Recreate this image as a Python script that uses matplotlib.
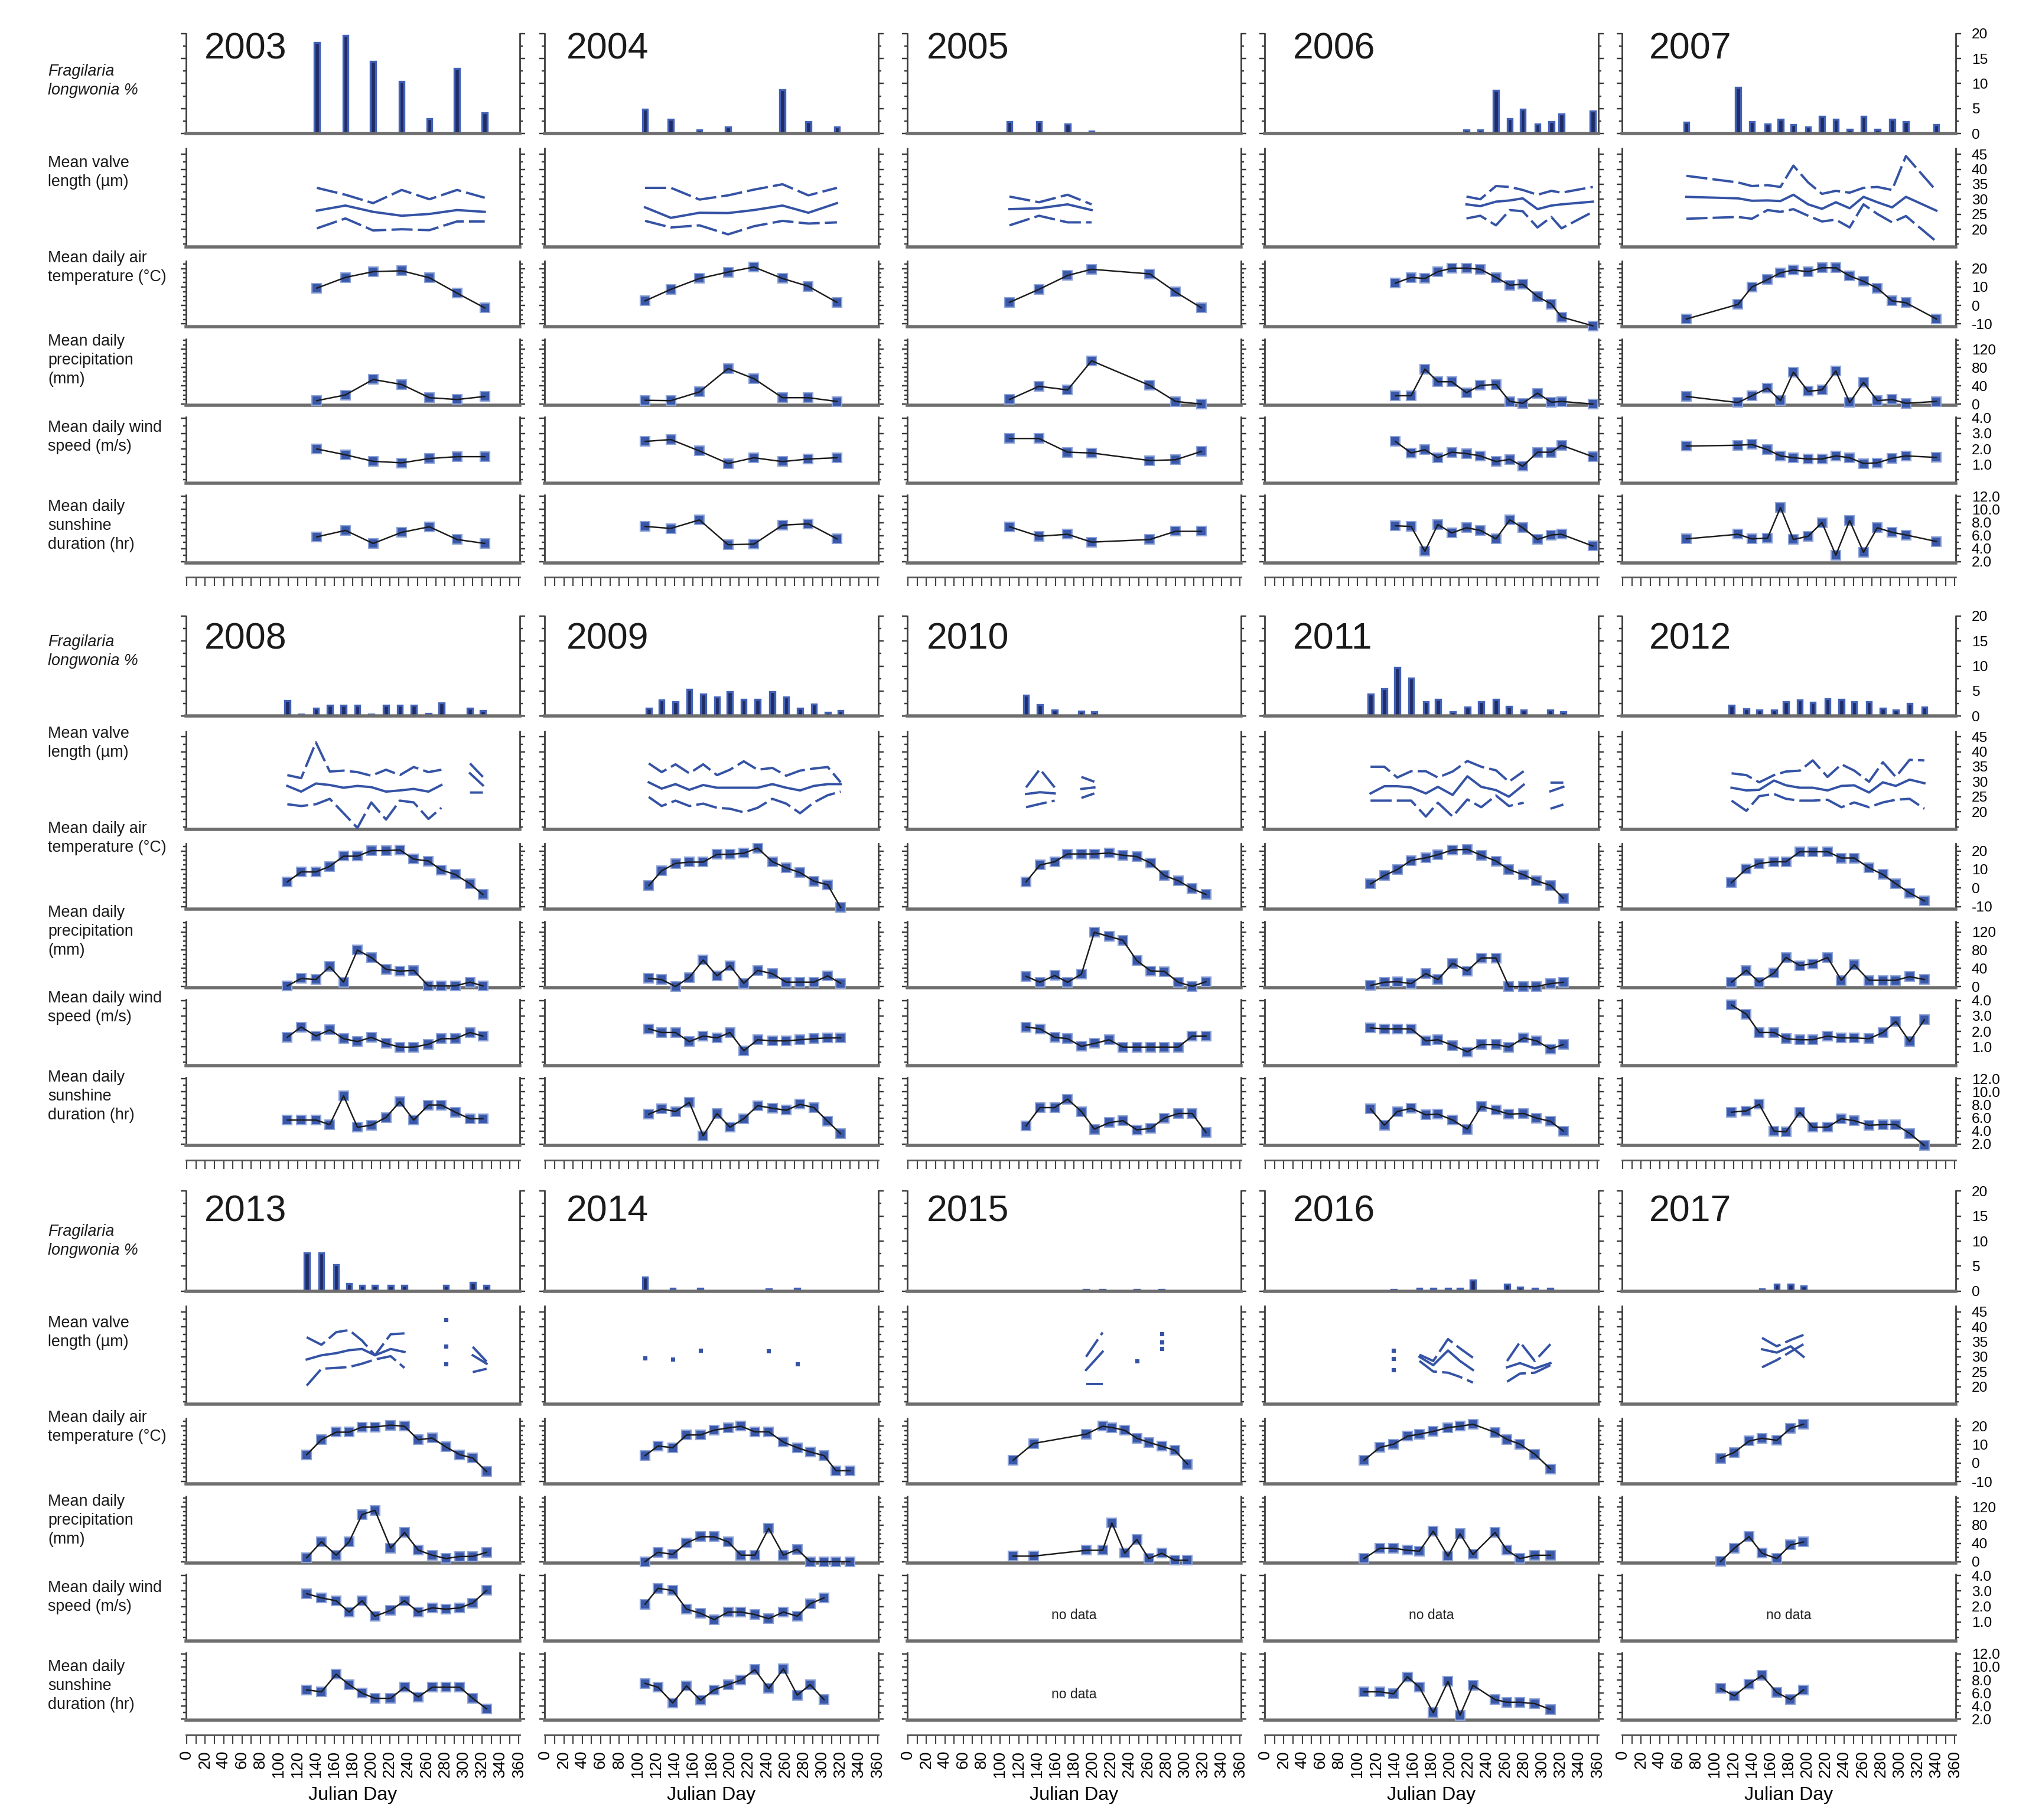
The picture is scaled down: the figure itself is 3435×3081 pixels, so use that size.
import numpy as np
import matplotlib
matplotlib.use("Agg")
import matplotlib.pyplot as plt
from matplotlib.ticker import MultipleLocator, FixedLocator, FormatStrFormatter

nan = np.nan

years = [2003, 2004, 2005, 2006, 2007, 2008, 2009, 2010, 2011, 2012, 2013, 2014, 2015, 2016, 2017]

row_labels = ["Fragilaria\nlongwonia %", "Mean valve\nlength (µm)", "Mean daily air\ntemperature (°C)",
              "Mean daily\nprecipitation\n(mm)", "Mean daily wind\nspeed (m/s)",
              "Mean daily\nsunshine\nduration (hr)"]

# ---- 2003
days_2003 = [141, 172, 202, 233, 263, 293, 323]
frag_2003 = [18.2, 19.6, 14.4, 10.4, 3.0, 13.0, 4.1]
vmax_2003 = [33.8, 31.5, 28.7, 33.1, 30.0, 33.1, 30.5]
vmean_2003 = [26.2, 27.9, 25.8, 24.5, 25.1, 26.4, 25.8]
vmin_2003 = [20.3, 23.6, 19.6, 20.0, 19.7, 22.6, 22.6]
air_2003 = [9.4, 15.2, 18.3, 18.8, 15.0, 6.7, -1.3]
rain_2003 = [7.5, 20, 54, 43, 14, 10, 16.7]
wind_2003 = [2.0, 1.62, 1.2, 1.1, 1.38, 1.5, 1.5]
sun_2003 = [5.8, 6.8, 4.8, 6.5, 7.35, 5.4, 4.8]

# ---- 2004
days_2004 = [108, 136, 167, 198, 226, 257, 285, 316]
frag_2004 = [4.9, 2.8, 0.75, 1.3, 0, 8.7, 2.4, 1.3]
vmax_2004 = [33.8, 33.8, 29.9, 31.3, 33.2, 35.0, 31.3, 33.8]
vmean_2004 = [27.3, 23.8, 25.5, 25.4, 26.4, 27.9, 25.5, 28.7]
vmin_2004 = [22.8, 20.6, 21.3, 18.3, 21.0, 22.8, 21.9, 22.3]
air_2004 = [2.5, 8.75, 14.6, 18.1, 20.8, 14.6, 10.4, 1.7]
rain_2004 = [8.3, 7.5, 26.7, 78, 55.8, 14, 14, 5.8]
wind_2004 = [2.49, 2.61, 1.87, 1.06, 1.43, 1.18, 1.35, 1.43]
sun_2004 = [7.4, 7.1, 8.4, 4.6, 4.7, 7.6, 7.8, 5.5]

# ---- 2005
days_2005 = [110, 142, 173, 199, 262, 290, 318]
frag_2005 = [2.4, 2.4, 1.9, 0.5, 0, 0, 0]
vmax_2005 = [30.9, 29.0, 31.5, 28.3, nan, nan, nan]
vmean_2005 = [26.7, 27.0, 28.3, 26.4, nan, nan, nan]
vmin_2005 = [21.3, 24.5, 22.3, 22.3, nan, nan, nan]
air_2005 = [1.7, 8.75, 16.25, 19.6, 17.1, 7.3, -1.25]
rain_2005 = [10, 39, 31, 95, 41, 5.8, 0]
wind_2005 = [2.68, 2.68, 1.79, 1.74, 1.25, 1.3, 1.84]
sun_2005 = [7.35, 5.9, 6.2, 5.0, 5.4, 6.65, 6.65]

# ---- 2006
days_2006 = [141, 158, 173, 187, 202, 218, 233, 250, 265, 279, 295, 310, 321, 355]
frag_2006 = [0, 0, 0, 0, 0, 0.75, 0.75, 8.6, 2.95, 4.9, 1.9, 2.4, 3.9, 4.5]
vmax_2006 = [nan, nan, nan, nan, nan, 30.9, 30.0, 34.4, 34.1, 33.1, 31.5, 32.8, 32.2, 34.1]
vmean_2006 = [nan, nan, nan, nan, nan, 28.3, 27.7, 29.2, 29.6, 30.3, 26.7, 27.9, 28.3, 29.2]
vmin_2006 = [nan, nan, nan, nan, nan, 23.6, 24.5, 21.3, 26.4, 26.0, 20.6, 24.1, 20.3, 25.8]
air_2006 = [12.1, 15.2, 14.6, 18.3, 20.2, 20.2, 19.6, 15.2, 11.0, 11.5, 4.8, 0.8, -6.25, -11]
rain_2006 = [18.3, 18.3, 76.7, 49, 49, 25, 41, 43, 5.8, 1.7, 24, 4, 5.8, 0]
wind_2006 = [2.49, 1.74, 1.95, 1.43, 1.79, 1.7, 1.55, 1.18, 1.33, 0.88, 1.79, 1.79, 2.24, 1.5]
sun_2006 = [7.5, 7.4, 3.6, 7.7, 6.4, 7.2, 6.8, 5.5, 8.4, 7.2, 5.4, 6.1, 6.2, 4.4]

# ---- 2007
days_2007 = [69, 125, 140, 157, 171, 185, 201, 216, 231, 246, 261, 276, 292, 307, 340]
frag_2007 = [2.3, 9.2, 2.4, 1.9, 2.8, 1.8, 1.3, 3.4, 2.8, 0.8, 3.4, 0.8, 2.8, 2.4, 1.8]
vmax_2007 = [37.8, 35.6, 34.4, 34.7, 34.1, 41.2, 35.6, 31.8, 32.8, 32.2, 33.8, 34.1, 33.1, 44.4, 32.8]
vmean_2007 = [30.8, 30.3, 29.5, 29.6, 29.4, 31.5, 28.3, 26.8, 29.0, 27.0, 30.8, 29.0, 27.3, 30.8, 26.2]
vmin_2007 = [23.5, 24.1, 23.5, 26.4, 25.8, 26.7, 24.5, 22.6, 23.2, 20.6, 28.3, 25.1, 22.3, 24.4, 15.9]
air_2007 = [-7.3, 0.6, 10, 14, 17.7, 19.2, 18.3, 20.4, 20.4, 16, 13.1, 9.4, 2.5, 1.5, -7.3]
rain_2007 = [16.7, 3.3, 18.3, 35, 7.5, 70, 28, 31, 72.5, 3.3, 47.5, 7.5, 10, 1.7, 5.8]
wind_2007 = [2.19, 2.24, 2.29, 1.95, 1.55, 1.43, 1.35, 1.35, 1.55, 1.43, 1.06, 1.1, 1.4, 1.55, 1.45]
sun_2007 = [5.5, 6.2, 5.5, 5.6, 10.3, 5.4, 5.9, 8.0, 3.0, 8.3, 3.45, 7.2, 6.5, 6.1, 5.1]

# ---- 2008
days_2008 = [109, 124, 140, 155, 170, 185, 200, 216, 231, 246, 262, 276, 291, 307, 321]
frag_2008 = [3.1, 0.4, 1.6, 2.2, 2.2, 2.2, 0.4, 2.2, 2.2, 2.2, 0.5, 2.6, 0, 1.6, 1.1]
vmax_2008 = [32.2, 31.2, 43.1, 33.4, 33.7, 33.2, 32.0, 34.0, 32.2, 34.9, 33.2, 34.0, nan, 36.1, 31.6]
vmean_2008 = [28.6, 26.7, 29.4, 28.9, 28.0, 28.6, 28.2, 26.7, 27.1, 27.6, 26.7, 28.9, nan, 32.8, 28.8]
vmin_2008 = [22.5, 21.9, 22.5, 24.3, 19.5, 14.6, 23.1, 17.4, 23.7, 23.1, 17.6, 21.3, nan, 26.4, 26.4]
air_2008 = [3.3, 8.7, 8.7, 11.7, 17.2, 17.2, 20.2, 20.2, 20.6, 15.6, 14.6, 9.7, 7.3, 2.3, -3.6]
rain_2008 = [1.5, 17.7, 15.3, 43.6, 9.6, 80, 63.8, 38, 33.9, 35.5, 1.5, 1.5, 1.5, 9.6, 1.5]
wind_2008 = [1.62, 2.29, 1.7, 2.1, 1.53, 1.34, 1.62, 1.22, 0.98, 0.98, 1.17, 1.53, 1.53, 1.93, 1.7]
sun_2008 = [5.7, 5.7, 5.7, 5.0, 9.4, 4.6, 4.9, 6.1, 8.5, 5.7, 8.0, 8.0, 6.9, 5.9, 5.9]

# ---- 2009
days_2009 = [112, 126, 141, 156, 171, 186, 200, 215, 230, 246, 261, 276, 291, 306, 320]
frag_2009 = [1.6, 3.2, 2.8, 5.3, 4.4, 3.8, 4.9, 3.3, 3.3, 4.9, 3.8, 1.6, 2.4, 0.7, 1.1]
vmax_2009 = [36.1, 33.2, 35.8, 32.8, 35.8, 32.2, 34.0, 36.8, 34.0, 34.6, 32.0, 33.7, 34.4, 34.9, 29.8]
vmean_2009 = [29.8, 27.7, 29.2, 27.3, 28.9, 28.0, 28.0, 28.0, 28.0, 29.2, 28.0, 27.1, 28.6, 29.2, 29.2]
vmin_2009 = [24.9, 21.9, 23.7, 21.9, 22.7, 21.3, 21.0, 19.8, 21.3, 24.3, 22.7, 19.5, 23.1, 25.5, 26.7]
air_2009 = [1.3, 9.3, 13.3, 14.0, 14.0, 18.2, 18.2, 18.8, 21.6, 14.2, 10.9, 8.3, 3.7, 1.7, -10.6]
rain_2009 = [17.7, 15.3, 0, 20.1, 58.1, 23.4, 46, 7.2, 35.5, 28.2, 9.6, 9.6, 9.6, 23.4, 7.2]
wind_2009 = [2.17, 1.93, 1.93, 1.34, 1.7, 1.58, 1.93, 0.75, 1.46, 1.39, 1.39, 1.46, 1.53, 1.58, 1.58]
sun_2009 = [6.6, 7.4, 7.0, 8.4, 3.3, 6.7, 4.6, 5.9, 7.9, 7.5, 7.2, 8.1, 7.6, 5.5, 3.6]

# ---- 2010
days_2010 = [128, 143, 159, 173, 188, 202, 218, 233, 248, 263, 278, 293, 308, 323]
frag_2010 = [4.2, 2.3, 1.2, 0, 0.95, 0.8, 0, 0, 0, 0, 0, 0, 0, 0]
vmax_2010 = [28.1, 34.2, 28.1, nan, 31.6, 30.0, nan, nan, nan, nan, nan, nan, nan, nan]
vmean_2010 = [25.9, 26.5, 26.1, nan, 27.6, 28.1, nan, nan, nan, nan, nan, nan, nan, nan]
vmin_2010 = [21.5, 22.6, 23.7, nan, 24.6, 26.1, nan, nan, nan, nan, nan, nan, nan, nan]
air_2010 = [3.3, 12.4, 14.2, 18.4, 18.4, 18.4, 18.9, 17.7, 17.0, 13.5, 6.7, 3.9, -0.4, -3.5]
rain_2010 = [22.4, 9.4, 24.2, 9.4, 27.2, 119, 110, 101.4, 56.9, 34.3, 33.1, 9.4, 0.5, 10.6]
wind_2010 = [2.29, 2.17, 1.62, 1.53, 1.03, 1.22, 1.46, 0.98, 0.98, 0.98, 0.98, 0.98, 1.7, 1.7]
sun_2010 = [4.8, 7.6, 7.6, 8.9, 7.0, 4.3, 5.3, 5.6, 4.2, 4.4, 6.0, 6.7, 6.7, 3.8]

# ---- 2011
days_2011 = [114, 129, 143, 158, 174, 187, 203, 219, 234, 250, 264, 280, 294, 309, 323]
frag_2011 = [4.4, 5.4, 9.7, 7.6, 2.9, 3.3, 0.85, 1.85, 2.8, 3.3, 1.9, 1.2, 0, 1.2, 0.85]
vmax_2011 = [35.0, 35.0, 31.4, 33.5, 33.5, 31.4, 33.4, 36.9, 35.0, 33.8, 30.0, 33.5, nan, 29.7, 29.7]
vmean_2011 = [26.1, 28.5, 28.5, 28.1, 26.1, 28.3, 25.6, 31.8, 28.3, 27.2, 25.0, 29.0, nan, 26.8, 28.3]
vmin_2011 = [23.7, 23.7, 23.7, 23.7, 18.4, 23.0, 18.4, 24.1, 21.5, 25.4, 21.9, 23.0, nan, 21.0, 22.4]
air_2011 = [2.2, 6.7, 10.0, 14.9, 16.3, 18.0, 20.6, 20.9, 17.7, 14.6, 10.0, 7.1, 3.9, 1.4, -5.6]
rain_2011 = [2.3, 9.4, 10.6, 6.4, 28.4, 15.3, 51.0, 34.3, 62.8, 62.8, 0, 0, 0, 6.4, 9.4]
wind_2011 = [2.22, 2.17, 2.17, 2.17, 1.39, 1.46, 1.1, 0.68, 1.15, 1.15, 0.98, 1.58, 1.39, 0.87, 1.15]
sun_2011 = [7.4, 4.9, 7.0, 7.5, 6.5, 6.6, 5.7, 4.3, 7.8, 7.2, 6.6, 6.7, 6.0, 5.5, 4.0]

# ---- 2012
days_2012 = [118, 134, 148, 164, 177, 192, 206, 222, 237, 251, 267, 282, 296, 311, 327]
frag_2012 = [2.2, 1.4, 1.2, 1.2, 2.9, 3.2, 2.7, 3.4, 3.3, 2.9, 2.9, 1.6, 1.2, 2.5, 1.75]
vmax_2012 = [32.8, 32.2, 29.8, 32.2, 33.4, 33.7, 37.1, 31.6, 35.8, 33.7, 30.0, 36.5, 31.6, 37.3, 37.1]
vmean_2012 = [28.0, 27.1, 27.3, 30.4, 28.8, 28.0, 28.0, 27.1, 28.6, 28.8, 26.4, 29.8, 28.6, 30.7, 29.5]
vmin_2012 = [23.7, 20.3, 25.2, 25.9, 24.3, 23.7, 23.7, 24.0, 21.5, 23.1, 21.5, 23.1, 24.0, 24.3, 21.0]
air_2012 = [2.9, 10.3, 13.3, 14.2, 14.2, 19.6, 19.6, 19.6, 16.2, 16.2, 10.9, 7.3, 2.3, -2.7, -7.0]
rain_2012 = [9.6, 35.5, 9.6, 29.8, 63.8, 46.0, 50.0, 63.8, 13.7, 47.6, 13.7, 13.7, 13.7, 21.8, 15.3]
wind_2012 = [3.71, 3.12, 1.93, 1.93, 1.53, 1.46, 1.46, 1.70, 1.58, 1.58, 1.53, 1.93, 2.64, 1.34, 2.76]
sun_2012 = [6.9, 7.1, 8.1, 4.0, 3.9, 6.9, 4.6, 4.6, 5.9, 5.6, 4.9, 5.0, 5.0, 3.65, 1.8]

# ---- 2013
days_2013 = [130, 146, 162, 176, 190, 204, 221, 236, 251, 266, 281, 296, 310, 325]
frag_2013 = [7.6, 7.6, 5.3, 1.5, 1.1, 1.1, 1.1, 1.1, 0, 0, 1.1, 0, 1.7, 1.1]
vmax_2013 = [36.5, 34.0, 38.2, 38.9, 35.4, 30.5, 37.5, 37.8, nan, nan, 42.4, nan, 33.3, 28.4]
vmean_2013 = [29.1, 30.5, 31.2, 32.2, 32.6, 30.5, 32.6, 31.6, nan, nan, 33.6, nan, 30.5, 27.7]
vmin_2013 = [20.4, 26.0, 26.3, 26.6, 27.7, 29.1, 30.2, 26.3, nan, nan, 27.7, nan, 24.9, 26.0]
air_2013 = [4.5, 12.6, 16.7, 16.7, 19.5, 19.5, 20.5, 19.9, 12.6, 13.5, 8.7, 4.5, 2.7, -4.6]
rain_2013 = [8.5, 43.5, 14.1, 43.5, 103.4, 112.6, 29.7, 63.8, 25.1, 14.1, 6.7, 11.3, 11.3, 20.5]
wind_2013 = [2.83, 2.56, 2.37, 1.64, 2.37, 1.37, 1.75, 2.37, 1.64, 1.91, 1.83, 1.91, 2.23, 3.04]
sun_2013 = [6.5, 6.2, 8.9, 7.3, 6.0, 5.2, 5.2, 6.9, 5.4, 6.9, 6.9, 6.9, 5.2, 3.6]

# ---- 2014
days_2014 = [108, 122, 138, 153, 168, 183, 198, 212, 227, 242, 258, 273, 287, 302, 315, 330]
frag_2014 = [2.8, 0, 0.5, 0, 0.5, 0, 0, 0, 0, 0.4, 0, 0.5, 0, 0, 0, 0]
vmax_2014 = [nan] * 16
vmean_2014 = [29.5, nan, 29.1, nan, 32.2, nan, nan, nan, nan, 31.9, nan, 27.7, nan, nan, nan, nan]
vmin_2014 = [nan] * 16
air_2014 = [4.0, 9.2, 8.3, 15.2, 15.2, 17.8, 19.0, 19.9, 16.9, 16.9, 11.3, 8.3, 6.0, 4.0, -4.1, -4.1]
rain_2014 = [0, 20.5, 15.9, 40.8, 54.6, 54.6, 43.5, 14.1, 14.1, 73, 14.1, 27, 0, 0, 0, 0]
wind_2014 = [2.15, 3.18, 3.04, 1.83, 1.56, 1.15, 1.64, 1.64, 1.48, 1.21, 1.64, 1.37, 2.18, 2.56, nan, nan]
sun_2014 = [7.5, 6.9, 4.5, 7.1, 4.9, 6.5, 7.3, 8.0, 9.6, 6.7, 9.7, 5.7, 7.3, 5.0, nan, nan]

# ---- 2015
days_2015 = [114, 136, 193, 211, 221, 235, 248, 261, 275, 289, 303]
frag_2015 = [0, 0, 0.3, 0.3, 0, 0, 0.3, 0, 0.3, 0, 0]
vmax_2015 = [nan, nan, 30.0, 38.1, nan, nan, nan, nan, 37.7, nan, nan]
vmean_2015 = [nan, nan, 25.6, 31.7, nan, nan, 28.6, nan, 34.9, nan, nan]
vmin_2015 = [nan, nan, 21.0, 21.0, nan, nan, nan, nan, 32.8, nan, nan]
air_2015 = [1.5, 10.6, 15.6, 19.9, 19.2, 17.7, 13.4, 11.2, 9.1, 6.9, -0.6]
rain_2015 = [12.0, 12.0, 24.8, 24.8, 84.8, 18.4, 48.4, 6.6, 18.4, 3.0, 3.0]
wind_2015 = None
sun_2015 = None

# ---- 2016
days_2016 = [107, 124, 139, 154, 167, 182, 198, 211, 225, 249, 262, 276, 292, 309]
frag_2016 = [0, 0, 0.3, 0, 0.6, 0.6, 0.5, 0.6, 2.2, 0, 1.4, 0.8, 0.5, 0.6]
vmax_2016 = [nan, nan, 32.1, nan, 30.7, 28.6, 35.9, 32.8, 29.7, nan, 28.6, 34.9, 28.6, 34.2]
vmean_2016 = [nan, nan, 29.3, nan, 30.0, 27.2, 32.1, 28.6, 25.6, nan, 26.5, 27.9, 26.1, 27.9]
vmin_2016 = [nan, nan, 25.6, nan, 28.6, 25.1, 24.7, 23.3, 21.4, nan, 21.7, 24.4, 24.7, 27.2]
air_2016 = [1.5, 8.4, 10.2, 14.5, 15.6, 17.1, 19.2, 19.9, 21.0, 16.6, 12.8, 10.2, 4.8, -3.2]
rain_2016 = [6.6, 29.3, 29.3, 24.8, 23.0, 66.6, 12.0, 61.1, 15.7, 63.9, 24.8, 6.6, 13.9, 13.9]
wind_2016 = None
sun_2016 = [6.2, 6.2, 5.9, 8.5, 6.9, 3.0, 7.8, 2.6, 7.2, 5.0, 4.6, 4.6, 4.4, 3.5]

# ---- 2017
days_2017 = [106, 121, 137, 151, 167, 182, 196]
frag_2017 = [0, 0, 0, 0.4, 1.4, 1.4, 1.0]
vmax_2017 = [nan, nan, nan, 36.3, 33.5, 35.6, 37.3]
vmean_2017 = [nan, nan, nan, 32.5, 31.4, 33.5, 30.0]
vmin_2017 = [nan, nan, nan, 26.5, 28.9, 31.7, 34.2]
air_2017 = [2.6, 5.8, 11.9, 13.4, 12.3, 18.8, 21.0]
rain_2017 = [0.2, 29.3, 54.7, 18.4, 6.6, 36.6, 43.0]
wind_2017 = None
sun_2017 = [6.7, 5.6, 7.4, 8.7, 6.1, 5.0, 6.5]

table = {
    2003: (days_2003, frag_2003, vmax_2003, vmean_2003, vmin_2003, air_2003, rain_2003, wind_2003, sun_2003),
    2004: (days_2004, frag_2004, vmax_2004, vmean_2004, vmin_2004, air_2004, rain_2004, wind_2004, sun_2004),
    2005: (days_2005, frag_2005, vmax_2005, vmean_2005, vmin_2005, air_2005, rain_2005, wind_2005, sun_2005),
    2006: (days_2006, frag_2006, vmax_2006, vmean_2006, vmin_2006, air_2006, rain_2006, wind_2006, sun_2006),
    2007: (days_2007, frag_2007, vmax_2007, vmean_2007, vmin_2007, air_2007, rain_2007, wind_2007, sun_2007),
    2008: (days_2008, frag_2008, vmax_2008, vmean_2008, vmin_2008, air_2008, rain_2008, wind_2008, sun_2008),
    2009: (days_2009, frag_2009, vmax_2009, vmean_2009, vmin_2009, air_2009, rain_2009, wind_2009, sun_2009),
    2010: (days_2010, frag_2010, vmax_2010, vmean_2010, vmin_2010, air_2010, rain_2010, wind_2010, sun_2010),
    2011: (days_2011, frag_2011, vmax_2011, vmean_2011, vmin_2011, air_2011, rain_2011, wind_2011, sun_2011),
    2012: (days_2012, frag_2012, vmax_2012, vmean_2012, vmin_2012, air_2012, rain_2012, wind_2012, sun_2012),
    2013: (days_2013, frag_2013, vmax_2013, vmean_2013, vmin_2013, air_2013, rain_2013, wind_2013, sun_2013),
    2014: (days_2014, frag_2014, vmax_2014, vmean_2014, vmin_2014, air_2014, rain_2014, wind_2014, sun_2014),
    2015: (days_2015, frag_2015, vmax_2015, vmean_2015, vmin_2015, air_2015, rain_2015, wind_2015, sun_2015),
    2016: (days_2016, frag_2016, vmax_2016, vmean_2016, vmin_2016, air_2016, rain_2016, wind_2016, sun_2016),
    2017: (days_2017, frag_2017, vmax_2017, vmean_2017, vmin_2017, air_2017, rain_2017, wind_2017, sun_2017),
}

# y axis setup per panel: limits, labelled ticks, minor step, label format
ylims = [(0, 20), (14.2, 46.9), (-11.4, 24.1), (-2.5, 143), (-0.22, 4.08), (1.83, 12.17)]
yticks = [[0, 5, 10, 15, 20], [20, 25, 30, 35, 40, 45], [-10, 0, 10, 20], [0, 40, 80, 120],
          [1, 2, 3, 4], [2, 4, 6, 8, 10, 12]]
yminor = [2.5, 2.5, 2.5, 10, 0.5, 1]
yfmt = ['%d', '%d', '%d', '%d', '%.1f', '%.1f']

plt.rcParams['font.family'] = ['Liberation Sans', 'DejaVu Sans']

W = 3435 / 2.2
H = 3081 / 2.2
fig = plt.figure(figsize=(3435 / 220, 3081 / 220), dpi=220)


def rect(x, y, w, h):
    return [x / W, 1 - (y + h) / H, w / W, h / H]


col_left = [143, 419, 698, 973, 1248]
col_w = 257
row_top = [25.8, 474, 916.5]
panels = [(0, 77), (88.5, 75.5), (175, 50.5), (235, 51), (295, 51), (355.3, 52)]
strip_y = 418
label_y = [29.2, 99.7, 172.7, 237.2, 303.2, 364.2]
label_shift = [0, -9, 2]
year_dx = [14, 17, 15, 22, 21]
year_dy = [12, 18, 16]

BLUE = '#3553a5'


def style(ax, k, show_right):
    ax.set_xlim(-1, 361)
    ax.set_ylim(*ylims[k])
    ax.spines['top'].set_visible(False)
    for s in ('left', 'right'):
        ax.spines[s].set_color('#3a3a3a')
        ax.spines[s].set_linewidth(0.9)
    ax.spines['bottom'].set_color('#6e6e6e')
    ax.spines['bottom'].set_linewidth(1.8)
    ax.tick_params(axis='x', which='both', bottom=False, labelbottom=False)
    ax.yaxis.set_major_locator(FixedLocator(yticks[k]))
    ax.yaxis.set_minor_locator(MultipleLocator(yminor[k]))
    ax.yaxis.set_major_formatter(FormatStrFormatter(yfmt[k]))
    ax.tick_params(axis='y', which='both', left=True, right=True, direction='out',
                   labelleft=False, labelright=show_right, color='#3a3a3a', width=0.8)
    ax.tick_params(axis='y', which='major', length=2.8, labelsize=8, pad=6)
    ax.tick_params(axis='y', which='minor', length=1.6)


def valve_line(ax, d, v, dashed):
    v = np.asarray(v, dtype=float)
    kw = dict(color=BLUE, lw=1.3, zorder=3)
    if dashed:
        kw['dashes'] = (9, 2.2)
    ax.plot(d, v, **kw)
    # points with no neighbour on either side would not show as a line
    ok = np.isfinite(v)
    prev = np.r_[False, ok[:-1]]
    nxt = np.r_[ok[1:], False]
    lone = ok & ~prev & ~nxt
    if lone.any():
        ax.plot(np.asarray(d)[lone], v[lone], ls='none', marker='s', ms=1.6, color=BLUE, zorder=3)


def met_line(ax, d, v):
    ax.plot(d, v, ls='none', marker='s', ms=5.0, mfc='#3a58aa', mec='#8ea3d8', mew=0.7,
            zorder=3, clip_on=False)
    ax.plot(d, v, color='#1c1c1c', lw=0.8, zorder=4, clip_on=False)


for i, yr in enumerate(years):
    r, c = divmod(i, 5)
    days, frag, vmax, vmean, vmin, air, rain, wind, sun = table[yr]
    x0 = col_left[c]
    top = row_top[r]
    axes = []
    for k, (dy, h) in enumerate(panels):
        ax = fig.add_axes(rect(x0, top + dy, col_w, h))
        style(ax, k, c == 4)
        axes.append(ax)

    # Fragilaria bars
    fd = [d for d, f in zip(days, frag) if f > 0]
    fv = [f for f in frag if f > 0]
    axes[0].bar(fd, fv, width=5.5, color='#1f2c66', edgecolor='#4262b8', linewidth=1.1, zorder=2)
    fig.text((x0 + year_dx[c]) / W, 1 - (top + year_dy[r]) / H, str(yr), fontsize=20.5,
             color='#1a1a1a', ha='left', va='center')

    # valve length: max / mean / min
    valve_line(axes[1], days, vmax, True)
    valve_line(axes[1], days, vmean, False)
    valve_line(axes[1], days, vmin, True)

    met_line(axes[2], days, air)
    met_line(axes[3], days, rain)
    for k, series in ((4, wind), (5, sun)):
        if series is None:
            axes[k].text(0.5, 0.38, 'no data', transform=axes[k].transAxes, fontsize=7.5,
                         ha='center', va='center', color='#222222')
        else:
            met_line(axes[k], days, series)

    # Julian day strip under each block
    sx = fig.add_axes(rect(x0, top + strip_y, col_w, 0.5))
    sx.set_xlim(-1, 361)
    sx.set_yticks([])
    for s in ('left', 'right', 'top'):
        sx.spines[s].set_visible(False)
    sx.spines['bottom'].set_color('#555555')
    sx.spines['bottom'].set_linewidth(0.9)
    sx.xaxis.set_major_locator(MultipleLocator(20))
    sx.xaxis.set_minor_locator(MultipleLocator(10))
    sx.tick_params(axis='x', which='both', direction='out', length=5, width=0.7, color='#444444')
    if r == 2:
        sx.tick_params(axis='x', which='major', labelsize=9, labelrotation=90, pad=3.5)
        sx.set_xlabel('Julian Day', fontsize=10.5, labelpad=5)
    else:
        sx.tick_params(axis='x', which='both', labelbottom=False)

    if c == 0:
        for k, lab in enumerate(row_labels):
            fig.text(37 / W, 1 - (top + label_y[k] + label_shift[r] - 6) / H, lab,
                     fontsize=8.8, ha='left', va='top', linespacing=1.3, color='#1a1a1a',
                     style='italic' if k == 0 else 'normal')

fig.savefig('out.png', dpi=220)
